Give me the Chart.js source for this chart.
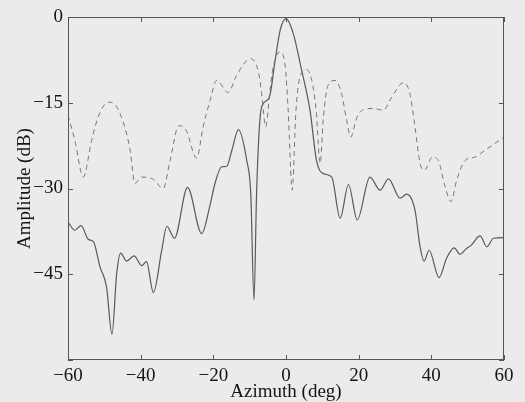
<!DOCTYPE html>
<html>
<head>
<meta charset="utf-8">
<script src="https://cdn.jsdelivr.net/npm/chart.js@4/dist/chart.umd.min.js"></script>
<style>
  html, body { margin: 0; padding: 0; background: #ebebeb; }
  #wrap { width: 525px; height: 402px; }
</style>
</head>
<body>
<div id="wrap"><canvas id="c" width="525" height="402"></canvas></div>
<script>
// ---- data ----
const xTicks = [-60, -40, -20, 0, 20, 40, 60];
const yTicks = [0, -15, -30, -45, -60];

const solidAz = [-60, -58.1, -56.4, -54.4, -53.0, -51.2, -49.4, -47.9, -46.6, -45.5, -43.9, -41.8, -39.7, -38.4, -36.5,
  -34.2, -32.8, -30.7, -27.1, -23.2, -20.9, -19.5, -17.7, -16.3, -14.9, -13.1, -10.8, -9.7, -8.8, -8.1, -7.2, -6.2,
  -4.6, -3.0, -1.6, 0, 2.0, 4.3, 6.6, 8.4, 10.3, 12.6, 14.9, 17.2, 19.6, 23.1, 25.9, 28.2, 31.4, 33.2, 35.5, 36.9,
  38.0, 39.4, 42.1, 44.2, 46.3, 47.9, 49.5, 51.0, 53.4, 55.3, 57.1, 60];
const solidAmp = [-35.9, -37.3, -36.5, -38.9, -39.3, -43.7, -47.2, -55.5, -44.9, -41.3, -42.7, -41.8, -43.5, -42.8, -48.2,
  -40.8, -36.6, -38.7, -29.8, -37.9, -32.9, -29.0, -26.2, -26.1, -23.3, -19.7, -25.1, -30.9, -49.5, -30.9, -18.1, -15.1,
  -14.1, -7.6, -2.3, -0.3, -2.9, -9.3, -16.3, -25.1, -27.4, -28.0, -35.2, -29.3, -35.5, -28.0, -30.3, -28.3, -31.7, -31.0, -33.8, -40.2,
  -42.7, -40.8, -45.6, -42.2, -40.4, -41.5, -40.6, -39.9, -38.3, -40.2, -38.7, -38.6];

const dashAz = [-60, -58.1, -55.8, -53.5, -51.7, -48.9, -47.1, -44.8, -42.9, -41.6, -39.7, -36.5, -33.8, -31.9, -29.5,
  -27.5, -24.6, -22.8, -20.9, -19.1, -15.9, -13.6, -9.7, -7.6, -6.7, -5.6, -4.4, -3.5, -1.65, -0.3, 0.6, 1.7, 2.75,
  3.85, 5.7, 7.1, 8.3, 9.4, 10.3, 11.6, 13.5, 15.3, 16.7, 17.8, 19.5, 21.3, 24.0, 26.8, 29.1, 32.3, 34.1, 35.5, 36.9,
  38.1, 40.3, 41.9, 43.8, 45.4, 47.0, 49.3, 52.0, 54.8, 57.5, 60];
const dashAmp = [-17.2, -21.6, -28.0, -21.6, -17.5, -14.9, -15.3, -18.4, -23.3, -29.1, -28.0, -28.4, -30.0, -25.1, -19.0,
  -19.8, -24.7, -19.2, -14.6, -11.1, -13.2, -10.2, -7.3, -9.6, -13.4, -19.2, -12.8, -8.7, -6.1, -8.1, -16.3, -30.3, -16.3,
  -10.5, -9.2, -11.1, -16.3, -25.6, -17.5, -11.9, -11.1, -13.4, -18.1, -21.0, -17.6, -16.2, -16.0, -16.3, -14.0, -11.5, -13.4, -19.2, -25.6,
  -26.8, -24.5, -25.1, -29.7, -32.3, -28.5, -25.1, -24.5, -23.3, -22.1, -21.0];

const toPts = (xs, ys) => xs.map((v, i) => ({ x: v, y: ys[i] }));
const minus = v => (v < 0 ? '\u2212' + Math.abs(v) : String(v));

const frame = {
  id: 'frame',
  afterDatasetsDraw(chart) {
    const { ctx, chartArea: a, scales: { x, y } } = chart;
    ctx.save();
    ctx.strokeStyle = '#555';
    ctx.lineWidth = 1;
    const L = 5;
    const seg = (x1, y1, x2, y2) => { ctx.beginPath(); ctx.moveTo(x1, y1); ctx.lineTo(x2, y2); ctx.stroke(); };
    ctx.strokeRect(Math.round(a.left) + 0.5, Math.round(a.top) + 0.5, Math.round(a.width) - 1, Math.round(a.height) - 1);
    xTicks.forEach(v => {
      const p = Math.round(x.getPixelForValue(v)) + 0.5;
      seg(p, a.bottom, p, a.bottom - L);
      seg(p, a.top, p, a.top + L);
    });
    yTicks.forEach(v => {
      const p = Math.round(y.getPixelForValue(v)) + 0.5;
      seg(a.left, p, a.left + L, p);
      seg(a.right, p, a.right - L, p);
    });
    ctx.restore();
  }
};

const font = { family: '"Liberation Serif", "DejaVu Serif", serif', size: 19 };
const titleFont = { family: '"Liberation Serif", "DejaVu Serif", serif', size: 19, lineHeight: 1.0 };

new Chart(document.getElementById('c'), {
  type: 'line',
  data: {
    datasets: [
      {
        data: toPts(dashAz, dashAmp),
        borderColor: '#767676',
        borderWidth: 1,
        borderDash: [5, 4],
        pointRadius: 0,
        cubicInterpolationMode: 'monotone',
        fill: false
      },
      {
        data: toPts(solidAz, solidAmp),
        borderColor: '#595959',
        borderWidth: 1.2,
        pointRadius: 0,
        cubicInterpolationMode: 'monotone',
        fill: false
      }
    ]
  },
  options: {
    responsive: false,
    animation: false,
    events: [],
    layout: { padding: { top: 17, right: 21, left: 0, bottom: 0 } },
    plugins: { legend: { display: false }, tooltip: { enabled: false } },
    scales: {
      x: {
        type: 'linear',
        min: -60, max: 60,
        afterBuildTicks: s => { s.ticks = xTicks.map(v => ({ value: v })); },
        afterFit: s => { s.height = 42; },
        grid: { display: false, drawTicks: false },
        border: { display: false },
        ticks: { color: '#151515', font, padding: 5, maxRotation: 0, callback: v => minus(v) },
        title: { display: true, text: 'Azimuth (deg)', color: '#151515', font: titleFont, padding: { top: 0, bottom: 0 } }
      },
      y: {
        type: 'linear',
        min: -60, max: 0,
        afterBuildTicks: s => { s.ticks = yTicks.map(v => ({ value: v })); },
        afterFit: s => { s.width = 68; },
        grid: { display: false, drawTicks: false },
        border: { display: false },
        ticks: { color: '#151515', font, padding: 5, callback: v => (v === -60 ? '' : minus(v)) },
        title: { display: true, text: 'Amplitude (dB)', color: '#151515', font: titleFont, padding: { top: 16, bottom: 0 } }
      }
    }
  },
  plugins: [frame]
});
</script>
</body>
</html>
